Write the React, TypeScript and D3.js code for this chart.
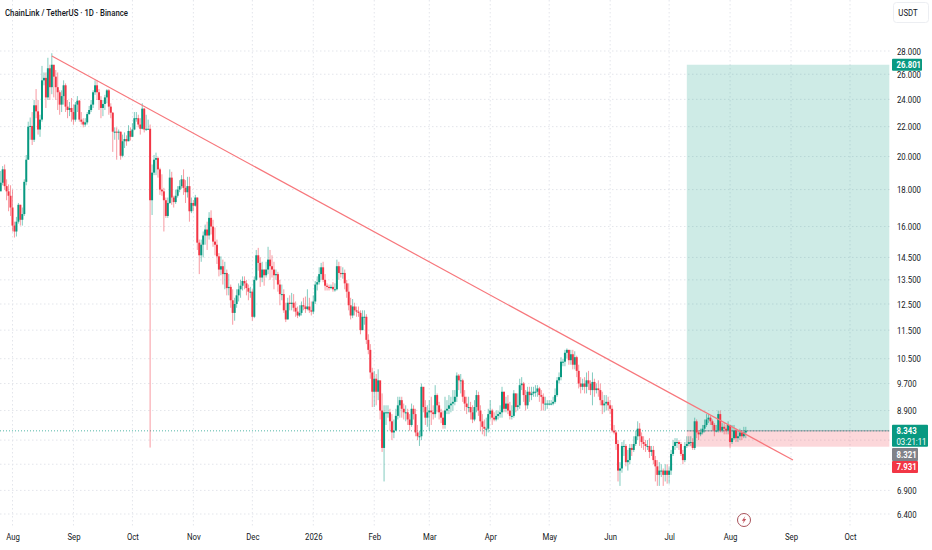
import React, { useEffect, useRef } from 'react';
import * as d3 from 'd3';

const title = 'ChainLink / TetherUS · 1D · Binance';
const firstDay = '2025-07-26';
const firstOpen = 17.9;

// daily candles, first row starts on firstDay, ten days per row
const closes = [
  18.4, 19.2, 18.2, 17.9, 17.65, 17.0, 16.05, 15.75, 16.25, 17.15,
  16.35, 16.65, 18.45, 19.8, 22.0, 22.05, 21.1, 23.55, 23.1, 21.8,
  22.5, 25.5, 25.7, 24.15, 26.5, 24.95, 26.8, 25.8, 24.95, 24.55,
  23.6, 24.25, 25.1, 23.45, 23.2, 23.35, 23.05, 22.5, 23.6, 23.9,
  22.5, 22.35, 22.15, 22.3, 22.9, 23.2, 23.6, 24.55, 25.1, 24.55,
  23.95, 23.35, 23.65, 24.15, 24.7, 23.45, 23.0, 21.65, 21.65, 21.6,
  21.65, 20.05, 21.0, 21.15, 21.0, 21.7, 21.3, 21.8, 22.6, 22.6,
  22.15, 21.85, 23.3, 21.8, 21.85, 21.85, 17.4, 19.0, 19.8, 19.9,
  19.2, 18.0, 17.9, 17.4, 16.55, 17.25, 18.7, 17.55, 17.3, 17.65,
  18.0, 18.2, 18.6, 18.1, 17.85, 18.2, 16.8, 17.25, 17.1, 17.55,
  15.2, 14.6, 15.1, 15.55, 15.85, 15.55, 16.45, 16.0, 15.25, 15.1,
  14.55, 13.95, 14.1, 13.75, 13.8, 13.15, 13.2, 12.65, 12.15, 12.5,
  12.85, 13.1, 13.25, 13.45, 13.35, 13.15, 13.0, 13.0, 12.0, 13.5,
  14.6, 14.25, 13.6, 13.95, 13.7, 13.95, 14.4, 14.1, 13.95, 13.7,
  13.75, 13.3, 12.9, 12.9, 12.25, 11.9, 12.55, 12.5, 12.55, 12.35,
  12.2, 12.05, 12.15, 12.45, 12.4, 12.3, 12.4, 12.25, 12.2, 12.6,
  13.3, 13.4, 13.75, 14.05, 13.5, 13.25, 13.2, 13.15, 13.2, 13.1,
  13.1, 14.1, 13.8, 13.75, 13.8, 13.35, 13.0, 12.45, 12.05, 12.4,
  12.25, 12.2, 12.15, 11.5, 12.0, 12.0, 11.15, 10.8, 10.05, 9.45,
  9.85, 9.45, 9.8, 8.9, 7.9, 8.85, 8.85, 8.85, 8.6, 8.3,
  8.35, 8.75, 9.05, 9.2, 8.95, 8.85, 8.85, 8.65, 8.5, 8.95,
  8.8, 8.3, 8.2, 8.2, 9.6, 9.0, 8.7, 8.85, 8.9, 8.85,
  8.8, 9.35, 9.05, 8.85, 8.7, 8.5, 8.9, 8.95, 9.05, 9.1,
  9.15, 9.3, 9.95, 9.8, 9.8, 9.3, 9.1, 9.0, 9.0, 8.85,
  8.65, 9.0, 9.35, 8.9, 8.6, 8.45, 8.4, 8.4, 8.8, 8.9,
  8.7, 8.65, 8.75, 8.8, 8.85, 9.45, 8.95, 9.1, 8.9, 8.75,
  8.75, 9.4, 9.0, 9.05, 9.65, 9.7, 9.35, 9.05, 9.45, 9.35,
  9.4, 9.45, 9.45, 9.55, 9.35, 9.3, 9.1, 9.1, 9.1, 9.1,
  9.1, 9.15, 9.35, 9.8, 9.9, 10.4, 10.4, 10.7, 10.8, 10.45,
  10.65, 10.3, 10.55, 10.1, 9.7, 9.6, 9.7, 9.6, 9.8, 9.7,
  9.5, 9.75, 9.5, 9.55, 9.5, 9.2, 9.05, 9.1, 9.15, 9.05,
  8.95, 8.35, 8.3, 8.0, 7.35, 7.4, 7.95, 7.95, 7.55, 7.6,
  7.9, 7.85, 8.0, 8.2, 8.4, 8.2, 8.05, 8.0, 7.95, 7.95,
  7.8, 7.85, 7.6, 7.45, 7.25, 7.35, 7.35, 7.25, 7.35, 7.25,
  7.35, 7.75, 7.95, 8.05, 8.05, 8.0, 7.75, 7.6, 7.95, 8.0,
  8.05, 8.05, 7.9, 8.6, 8.3, 8.25, 8.3, 8.4, 8.5, 8.65,
  8.7, 8.6, 8.5, 8.35, 8.35, 8.8, 8.35, 8.45, 8.4, 8.35,
  8.5, 8.05, 8.15, 8.35, 8.15, 8.2, 8.3, 8.2, 8.3, 8.343,
];

const highs = [
  19.1, 19.4, 19.5, 18.6, 18.3, 18.25, 18.0, 16.25, 16.5, 17.25,
  17.15, 17.0, 18.6, 20.1, 22.35, 22.65, 23.05, 23.95, 24.8, 23.95,
  22.85, 26.7, 26.15, 26.15, 27.4, 26.8, 27.8, 26.5, 26.35, 26.15,
  24.7, 24.7, 25.5, 25.25, 23.95, 23.8, 24.1, 23.6, 23.8, 24.25,
  23.95, 23.05, 22.6, 22.6, 23.05, 23.5, 23.95, 24.7, 25.5, 25.5,
  24.8, 24.25, 23.95, 24.35, 24.8, 24.8, 23.7, 23.05, 21.95, 21.95,
  21.8, 21.65, 21.45, 21.6, 21.4, 22.1, 21.95, 22.25, 23.05, 23.05,
  22.85, 22.6, 23.7, 23.35, 22.85, 22.5, 22.15, 19.5, 20.1, 20.25,
  20.0, 19.3, 18.9, 18.1, 17.55, 17.55, 19.2, 19.05, 17.65, 18.0,
  18.2, 18.55, 18.85, 19.2, 18.55, 18.75, 18.75, 17.55, 17.4, 17.7,
  17.55, 15.35, 15.35, 15.75, 16.1, 16.25, 16.75, 16.85, 16.35, 15.95,
  15.35, 14.7, 14.55, 14.4, 14.3, 13.95, 13.75, 13.3, 13.1, 12.75,
  13.1, 13.35, 13.5, 13.65, 13.65, 13.5, 13.3, 13.2, 13.1, 13.65,
  14.85, 14.95, 14.5, 14.3, 13.95, 14.3, 15.0, 14.85, 14.6, 14.3,
  13.95, 13.85, 13.5, 13.3, 13.1, 12.55, 12.75, 12.85, 12.95, 12.9,
  12.6, 12.4, 12.45, 12.6, 12.75, 12.8, 13.1, 12.75, 12.6, 12.85,
  13.45, 13.65, 14.05, 14.25, 14.3, 13.75, 13.35, 13.3, 13.3, 13.4,
  13.35, 14.4, 14.3, 14.1, 14.05, 13.95, 13.5, 13.35, 12.75, 12.7,
  12.55, 12.4, 12.4, 12.25, 12.25, 12.25, 12.1, 11.35, 11.0, 10.2,
  10.1, 10.0, 10.15, 9.7, 9.4, 9.05, 9.05, 9.05, 8.95, 8.8,
  8.65, 8.95, 9.3, 9.3, 9.3, 9.1, 9.05, 8.95, 8.8, 9.1,
  9.05, 8.95, 8.5, 8.35, 9.7, 9.55, 9.2, 9.05, 9.2, 9.3,
  9.05, 9.65, 9.4, 9.15, 8.95, 8.9, 9.3, 9.2, 9.35, 9.3,
  9.5, 9.5, 10.05, 10.0, 10.0, 9.85, 9.5, 9.3, 9.3, 9.15,
  9.05, 9.2, 9.5, 9.45, 9.05, 8.8, 8.65, 8.7, 8.95, 9.2,
  8.95, 8.85, 8.9, 8.9, 9.05, 9.6, 9.45, 9.3, 9.35, 9.15,
  9.05, 9.5, 9.4, 9.4, 9.85, 9.9, 9.75, 9.5, 9.6, 9.6,
  9.6, 9.6, 9.65, 9.65, 9.6, 9.5, 9.4, 9.3, 9.2, 9.2,
  9.2, 9.3, 9.55, 9.9, 10.05, 10.55, 10.5, 10.8, 10.85, 10.8,
  10.8, 10.8, 10.75, 10.6, 10.3, 9.9, 9.85, 9.9, 10.05, 10.1,
  9.8, 10.05, 9.85, 9.7, 9.8, 9.7, 9.45, 9.35, 9.35, 9.3,
  9.2, 9.05, 8.5, 8.35, 8.1, 7.55, 8.05, 8.1, 8.0, 7.85,
  8.0, 8.0, 8.2, 8.35, 8.6, 8.55, 8.3, 8.2, 8.1, 8.1,
  8.15, 7.95, 7.95, 7.7, 7.6, 7.55, 7.5, 7.4, 7.5, 7.5,
  7.45, 7.85, 8.1, 8.15, 8.15, 8.1, 8.05, 7.85, 8.05, 8.2,
  8.2, 8.2, 8.15, 8.7, 8.65, 8.35, 8.4, 8.5, 8.65, 8.8,
  8.8, 8.75, 8.65, 8.55, 8.5, 8.9, 8.9, 8.55, 8.55, 8.5,
  8.6, 8.5, 8.5, 8.5, 8.4, 8.35, 8.4, 8.35, 8.45, 8.45,
];

const lows = [
  18.0, 18.25, 18.0, 17.4, 16.8, 16.55, 15.75, 15.45, 15.5, 16.15,
  16.05, 16.05, 16.55, 18.25, 19.8, 21.1, 20.75, 20.95, 22.6, 21.45,
  21.3, 22.35, 25.1, 23.35, 23.95, 23.95, 24.4, 24.15, 23.95, 23.2,
  22.85, 23.05, 23.6, 23.05, 22.6, 22.75, 22.35, 22.15, 22.35, 23.05,
  22.35, 22.15, 21.95, 22.0, 22.15, 22.85, 23.05, 23.35, 24.35, 23.95,
  23.2, 22.6, 22.75, 23.2, 23.7, 22.85, 22.6, 20.3, 21.1, 19.8,
  21.1, 19.8, 19.95, 20.55, 20.7, 21.0, 21.05, 21.3, 21.75, 22.35,
  21.95, 21.45, 21.8, 21.6, 21.7, 21.8, 7.91, 16.6, 18.85, 18.85,
  18.7, 17.7, 17.65, 15.75, 16.45, 16.45, 17.2, 17.15, 17.0, 17.2,
  17.55, 17.85, 18.05, 17.7, 17.25, 17.55, 16.25, 16.7, 16.8, 17.05,
  14.85, 13.75, 14.3, 14.5, 15.1, 14.85, 15.35, 15.6, 15.0, 14.6,
  14.2, 13.65, 13.7, 13.3, 13.1, 12.85, 12.85, 12.35, 11.7, 11.85,
  12.35, 12.6, 12.75, 13.05, 13.1, 12.85, 12.65, 12.75, 11.85, 11.95,
  13.45, 13.9, 13.2, 13.4, 13.25, 13.6, 13.75, 13.5, 13.6, 13.1,
  13.5, 13.0, 12.45, 12.65, 12.15, 11.8, 11.9, 12.25, 12.25, 12.2,
  12.0, 11.95, 12.0, 12.05, 12.25, 12.15, 12.25, 12.15, 12.05, 12.1,
  12.5, 13.05, 13.3, 13.5, 13.4, 13.05, 13.05, 13.05, 13.1, 13.0,
  13.0, 13.05, 13.5, 13.6, 13.55, 13.1, 12.75, 12.25, 11.9, 11.95,
  12.05, 12.0, 12.0, 11.35, 11.5, 11.7, 11.0, 10.65, 9.85, 9.0,
  9.0, 9.05, 9.2, 8.65, 7.8, 7.1, 8.5, 8.7, 8.35, 8.1,
  8.15, 8.35, 8.65, 8.7, 8.7, 8.65, 8.6, 8.5, 8.35, 8.45,
  8.65, 8.2, 8.1, 7.95, 8.1, 8.85, 8.5, 8.45, 8.35, 8.5,
  8.65, 8.7, 8.85, 8.65, 8.55, 8.4, 8.4, 8.8, 8.8, 8.85,
  8.9, 9.05, 9.15, 9.5, 9.4, 9.15, 8.9, 8.8, 8.85, 8.65,
  8.55, 8.6, 8.85, 8.75, 8.35, 8.25, 8.2, 8.2, 8.3, 8.65,
  8.5, 8.6, 8.6, 8.65, 8.7, 8.7, 8.85, 8.85, 8.8, 8.65,
  8.65, 8.7, 8.85, 8.9, 8.95, 9.5, 9.15, 8.9, 8.95, 9.15,
  9.2, 9.3, 9.3, 9.3, 9.15, 8.9, 8.9, 8.9, 8.95, 9.05,
  9.05, 9.05, 9.1, 9.3, 9.7, 9.8, 10.25, 10.25, 10.5, 10.3,
  10.3, 10.15, 10.15, 9.9, 9.55, 9.4, 9.5, 9.4, 9.4, 9.5,
  9.35, 9.05, 9.3, 9.4, 9.3, 9.05, 8.8, 8.85, 8.9, 8.9,
  8.8, 8.3, 8.25, 7.85, 7.1, 7.0, 7.3, 7.7, 7.45, 7.35,
  7.5, 7.7, 7.8, 7.95, 8.1, 7.95, 7.9, 7.85, 7.8, 7.85,
  7.65, 7.7, 7.5, 7.1, 7.0, 7.0, 7.2, 7.0, 7.1, 7.05,
  7.05, 7.25, 7.7, 7.85, 7.9, 7.85, 7.7, 7.5, 7.55, 7.9,
  7.95, 7.95, 7.85, 7.85, 8.15, 8.1, 8.2, 8.25, 8.3, 8.45,
  8.55, 8.5, 8.35, 8.2, 8.3, 8.3, 8.3, 8.3, 8.25, 8.25,
  8.25, 7.9, 8.0, 8.1, 8.05, 8.05, 8.1, 8.1, 8.15, 8.15,
];

const monthTicks = [
  '2025-08-01', '2025-09-01', '2025-10-01', '2025-11-01', '2025-12-01', '2026-01-01', '2026-02-01',
  '2026-03-01', '2026-04-01', '2026-05-01', '2026-06-01', '2026-07-01', '2026-08-01', '2026-09-01', '2026-10-01',
];
const monthLabels = ['Aug', 'Sep', 'Oct', 'Nov', 'Dec', '2026', 'Feb', 'Mar', 'Apr', 'May', 'Jun', 'Jul', 'Aug', 'Sep', 'Oct'];

const priceTicks = [28, 26, 24, 22, 20, 18, 16, 14.5, 13.5, 12.5, 11.5, 10.5, 9.7, 8.9, 8.1, 7.5, 6.9, 6.4];
const coveredTicks = [8.1, 7.5]; // sit under the price tags

const trendDates = ['2025-08-21', '2026-09-02'];
const trendPrices = [27.55, 7.6];

const entryPrice = 8.343;
const targetPrice = 26.801;
const stopPrice = 7.931;
const boxDates = ['2026-07-10', '2026-10-21'];
const lastPriceTag = '8.343';
const countdownTag = '03:21:11';
const prevPriceTag = '8.321';
const stopTag = '7.931';
const targetTag = '26.801';

const GREEN = '#089981';
const RED = '#f23645';
const GRID = '#e3e5eb';
const TEXT = '#131722';
const FONT = 'Roboto, sans-serif';
const NARROW = 'scale(0.82,1)'; // the axis font in the picture is tighter than Roboto

const App: React.FC = () => {
  const svgRef = useRef<SVGSVGElement>(null);

  useEffect(() => {
    if (!svgRef.current) return;
    document.body.style.margin = '0';
    const svg = d3.select(svgRef.current);
    svg.selectAll('*').remove();

    const xScale = d3
      .scaleUtc()
      .domain([new Date('2025-08-01'), new Date('2026-10-01')])
      .range([12.5, 850]);
    const yScale = d3.scaleLog().domain([28, 6.4]).range([51, 514]);
    const axisRight = 890;
    const start = new Date(firstDay);
    const dayX = (i: number) => xScale(d3.utcDay.offset(start, i));

    // grid
    const grid = svg.append('g').attr('stroke', GRID).attr('stroke-dasharray', '1.5 2.5');
    grid
      .selectAll('line.h')
      .data(priceTicks)
      .join('line')
      .attr('class', 'h')
      .attr('x1', 0)
      .attr('x2', axisRight)
      .attr('y1', d => yScale(d))
      .attr('y2', d => yScale(d));
    grid
      .selectAll('line.v')
      .data(monthTicks)
      .join('line')
      .attr('class', 'v')
      .attr('x1', d => xScale(new Date(d)))
      .attr('x2', d => xScale(new Date(d)))
      .attr('y1', 0)
      .attr('y2', 527);

    // long position box
    const boxLeft = xScale(new Date(boxDates[0]));
    const boxRight = xScale(new Date(boxDates[1]));
    svg
      .append('rect')
      .attr('x', boxLeft)
      .attr('y', yScale(targetPrice))
      .attr('width', boxRight - boxLeft)
      .attr('height', yScale(entryPrice) - yScale(targetPrice))
      .attr('fill', GREEN)
      .attr('fill-opacity', 0.2);
    svg
      .append('rect')
      .attr('x', boxLeft)
      .attr('y', yScale(entryPrice))
      .attr('width', boxRight - boxLeft)
      .attr('height', yScale(stopPrice) - yScale(entryPrice))
      .attr('fill', RED)
      .attr('fill-opacity', 0.2);

    // last price line
    svg
      .append('line')
      .attr('x1', 0)
      .attr('x2', axisRight)
      .attr('y1', yScale(entryPrice))
      .attr('y2', yScale(entryPrice))
      .attr('stroke', GREEN)
      .attr('stroke-opacity', 0.7)
      .attr('stroke-dasharray', '1 2');
    svg
      .append('line')
      .attr('x1', boxLeft)
      .attr('x2', boxRight)
      .attr('y1', yScale(entryPrice))
      .attr('y2', yScale(entryPrice))
      .attr('stroke', '#787b86')
      .attr('stroke-opacity', 0.7);

    // candles
    const opens = closes.map((_, i) => (i === 0 ? firstOpen : closes[i - 1]));
    const colorOf = (i: number) => (closes[i] >= opens[i] ? GREEN : RED);

    svg
      .append('g')
      .selectAll('line')
      .data(closes)
      .join('line')
      .attr('x1', (_, i) => dayX(i))
      .attr('x2', (_, i) => dayX(i))
      .attr('y1', (_, i) => yScale(highs[i]))
      .attr('y2', (_, i) => yScale(lows[i]))
      .attr('stroke', (_, i) => colorOf(i))
      .attr('stroke-width', 1)
      .attr('stroke-opacity', 0.5);

    svg
      .append('g')
      .selectAll('rect')
      .data(closes)
      .join('rect')
      .attr('x', (_, i) => dayX(i) - 1)
      .attr('width', 2)
      .attr('y', (d, i) => Math.min(yScale(d), yScale(opens[i])))
      .attr('height', (d, i) => Math.max(1, Math.abs(yScale(d) - yScale(opens[i]))))
      .attr('fill', (_, i) => colorOf(i));

    // trend line
    svg
      .append('line')
      .attr('x1', xScale(new Date(trendDates[0])))
      .attr('y1', yScale(trendPrices[0]))
      .attr('x2', xScale(new Date(trendDates[1])))
      .attr('y2', yScale(trendPrices[1]))
      .attr('stroke', '#f7777c')
      .attr('stroke-width', 1.2);

    // axes
    const xAxis = d3
      .axisBottom(xScale)
      .tickValues(monthTicks.map(d => new Date(d)))
      .tickSize(0)
      .tickPadding(0)
      .tickFormat((_, i) => monthLabels[i]);
    const gx = svg.append('g').attr('transform', 'translate(0,533)').call(xAxis);

    const yAxis = d3
      .axisRight(yScale)
      .tickValues(priceTicks)
      .tickSize(0)
      .tickPadding(0)
      .tickFormat(d => (coveredTicks.includes(+d) ? '' : d3.format('.3f')(+d)));
    const gy = svg.append('g').attr('transform', 'translate(897,0)').call(yAxis);

    [gx, gy].forEach(g => {
      g.select('.domain').remove();
      g.selectAll('text')
        .attr('fill', TEXT)
        .attr('font-family', FONT)
        .attr('font-size', 9.5)
        .attr('transform', NARROW);
    });

    // price tags
    const tag = (y: number, h: number, w: number, fill: string) =>
      svg.append('rect').attr('x', 892).attr('y', y).attr('width', w).attr('height', h).attr('rx', 1).attr('fill', fill);
    const tagText = (y: number, s: string, weight = 'bold') =>
      svg
        .append('text')
        .attr('transform', `translate(896.5,${y}) ${NARROW}`)
        .attr('dy', '0.34em')
        .attr('fill', '#fff')
        .attr('font-family', FONT)
        .attr('font-size', 9.5)
        .attr('font-weight', weight)
        .text(s);

    const targetY = yScale(targetPrice);
    tag(targetY - 6, 12, 30, GREEN);
    tagText(targetY, targetTag);

    const lastY = yScale(entryPrice);
    tag(lastY - 6, 22, 36, GREEN);
    tagText(lastY, lastPriceTag);
    tagText(lastY + 10.5, countdownTag, 'normal');

    tag(448, 13, 26, '#808289');
    tagText(455, prevPriceTag);
    tag(461, 12, 26, RED);
    tagText(467, stopTag);

    // symbol title
    svg
      .append('text')
      .attr('transform', `translate(5,16) ${NARROW}`)
      .attr('fill', TEXT)
      .attr('font-family', FONT)
      .attr('font-size', 9.5)
      .attr('font-weight', 500)
      .text(title);

    // currency button
    svg
      .append('rect')
      .attr('x', 893.5)
      .attr('y', 2.5)
      .attr('width', 35)
      .attr('height', 20)
      .attr('rx', 3)
      .attr('fill', '#fff')
      .attr('stroke', '#eceef2');
    svg
      .append('text')
      .attr('transform', `translate(908,13) ${NARROW}`)
      .attr('dy', '0.34em')
      .attr('text-anchor', 'middle')
      .attr('fill', TEXT)
      .attr('font-family', FONT)
      .attr('font-size', 9.5)
      .text('USDT');

    // lightning marker
    const bolt = svg.append('g').attr('transform', 'translate(744,520)');
    bolt.append('circle').attr('r', 6.5).attr('fill', '#fff').attr('stroke', '#a8525a').attr('stroke-width', 1);
    bolt.append('path').attr('d', 'M1.4,-4 L-2.2,0.7 L-0.2,0.7 L-1.4,4 L2.2,-0.9 L0.2,-0.9 Z').attr('fill', '#c4555f');
  }, []);

  return <svg ref={svgRef} width={932} height={550} style={{ position: 'absolute', left: 0, top: 0, background: '#fff' }} />;
};

export default App;
